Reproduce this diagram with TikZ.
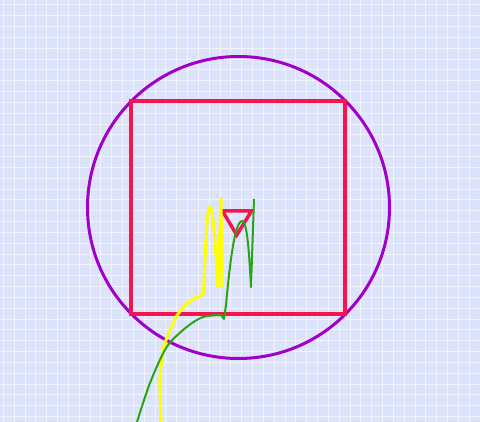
\documentclass[tikz,border=0pt]{standalone}
\definecolor{bgc}{RGB}{221,227,250}
\definecolor{gridc}{RGB}{241,243,253}
\definecolor{sqred}{RGB}{245,20,75}
\definecolor{circpurple}{RGB}{160,0,200}
\definecolor{cyellow}{RGB}{255,255,0}
\definecolor{cgreen}{RGB}{40,165,20}
\tikzset{
  gridline/.style={draw=gridc, line width=1pt},
  sqstyle/.style={draw=sqred, line width=3.5pt, line join=miter},
  circstyle/.style={draw=circpurple, line width=3pt},
  ycurve/.style={draw=cyellow, line width=3pt, line join=round},
  gcurve/.style={draw=cgreen, line width=2pt, line join=round}
}
\begin{document}
\begin{tikzpicture}[x=1pt,y=-1pt]
\useasboundingbox (0,0) rectangle (480,422);
\fill[bgc] (0,0) rectangle (480,422);
\foreach \i in {0,...,44} {
  \draw[gridline] ({3.5+\i*10.83},0) -- ({3.5+\i*10.83},422);
}
\foreach \j in {0,...,39} {
  \draw[gridline] (0,{5+\j*10.83}) -- (480,{5+\j*10.83});
}
\coordinate (c) at (238.5,207.5);
\draw[circstyle] (c) circle[radius=151];
\draw[sqstyle] (131,101) rectangle (345,314);
\draw[sqstyle] (222.5,211) -- (251.5,211) -- (236.7,235) -- cycle;
% yellow curve
\draw[ycurve] plot[smooth, tension=0.5] coordinates {(161,422) (160,380) (163,350) (170,330) (178,314) (190,301) (201,296)}
  -- (203.5,293) .. controls (206,240) and (207,207) .. (210,207)
  .. controls (213,207) and (215,240) .. (218,287)
  -- (221,199) -- (222,287);
% green curve
\draw[gcurve] plot[smooth, tension=0.5] coordinates {(137,422) (150,383) (166.7,347) (186.7,327) (203,317) (221,315)}
  -- (224,319) -- (226,305) .. controls (231,250) and (236,221) .. (242,221)
  .. controls (247,221) and (249,250) .. (251,287)
  -- (254,199);
\end{tikzpicture}
\end{document}
